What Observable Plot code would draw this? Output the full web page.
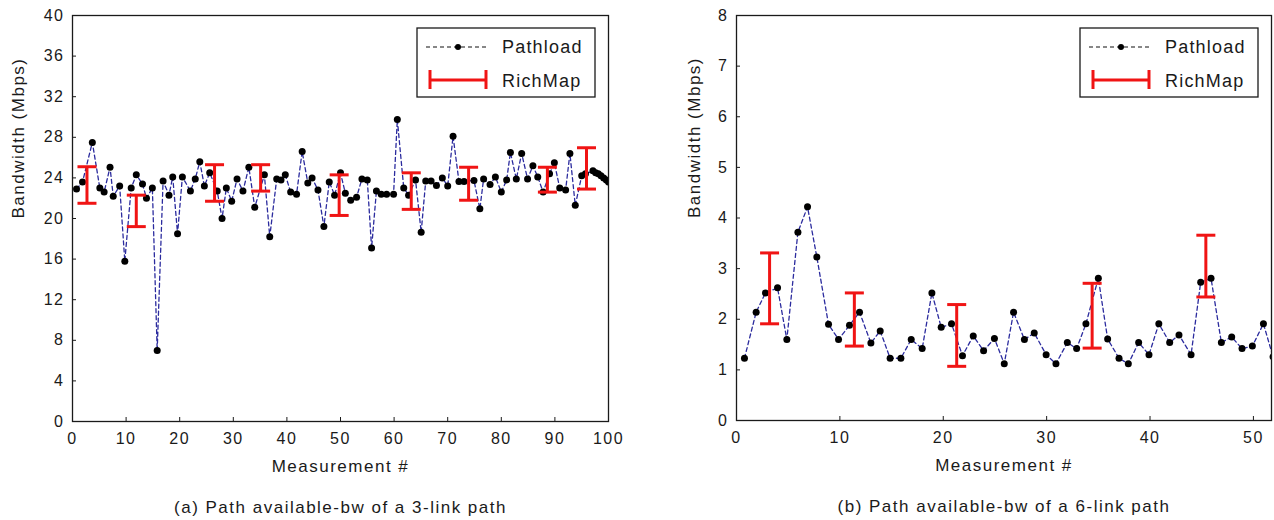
<!DOCTYPE html>
<html><head><meta charset="utf-8">
<script src="https://cdn.jsdelivr.net/npm/d3@7"></script>
<script src="https://cdn.jsdelivr.net/npm/@observablehq/plot@0.6"></script>
<style>
body{margin:0;background:#fff;}
#wrap{display:flex;width:1274px;height:520px;overflow:hidden;}
svg{display:block;}
</style></head><body><div id="wrap"></div>
<script>
// ---------- data: panel (a) 3-link path ----------
const leftX = [0.75,1.87,3.7,5.1,5.9,7.0,7.6,8.8,9.76,10.95,11.9,13.06,13.8,14.9,15.8,16.9,18.0,18.7,19.6,20.5,22.0,22.9,23.75,24.6,25.6,27.0,27.9,28.7,29.7,30.7,31.8,32.9,34.0,35.8,36.8,38.1,38.9,39.7,40.7,41.8,42.85,43.9,44.7,45.8,46.9,47.9,48.9,50.0,50.9,51.9,53.0,54.0,55.0,55.8,56.7,57.6,58.6,59.9,60.6,61.8,62.7,64.0,65.05,65.9,66.9,67.9,69.0,70.0,71.0,72.1,73.05,74.9,76.0,76.7,77.9,78.9,80.0,81.0,81.7,82.8,83.8,84.9,85.9,86.8,87.8,89.0,89.9,90.9,92.0,92.8,93.8,95.0,95.7,97.1,97.6,98.1,98.6,99.1,99.6,100];
const leftY = [22.9,23.6,27.5,23.0,22.6,25.05,22.2,23.2,15.8,23.0,24.3,23.4,22.0,23.0,7.0,23.7,22.3,24.1,18.5,24.1,22.7,23.9,25.6,23.2,24.5,22.7,20.0,23.0,21.7,23.9,22.7,25.05,21.1,24.3,18.2,23.9,23.8,24.3,22.6,22.4,26.6,23.5,24.0,22.8,19.2,23.6,22.3,24.5,22.5,21.8,22.1,23.9,23.8,17.1,22.7,22.4,22.4,22.4,29.75,23.0,22.3,23.8,18.65,23.7,23.7,23.25,24.0,23.2,28.1,23.65,23.65,23.75,20.95,23.9,23.35,24.1,22.6,23.8,26.5,23.9,26.4,23.9,25.2,24.1,22.6,24.4,25.5,23.0,22.8,26.4,21.3,24.2,24.4,24.7,24.5,24.4,24.2,24.0,23.8,23.6];
const leftBarX  = [2.7,11.9,26.5,35.1,49.75,63.2,73.9,88.6,95.9];
const leftBarLo = [21.5,19.2,21.7,22.7,20.3,20.9,21.8,22.6,22.9];
const leftBarHi = [25.1,22.3,25.3,25.3,24.3,24.5,25.05,25.05,26.97];
const leftXTicks = [0,10,20,30,40,50,60,70,80,90,100];
const leftYTicks = [0,4,8,12,16,20,24,28,32,36,40];
const leftCaption = "(a) Path available-bw of a 3-link path";

// ---------- data: panel (b) 6-link path ----------
const rightX = [0.77,1.9,2.8,3.97,4.87,5.94,6.87,7.77,8.9,9.87,10.93,11.9,13.0,13.9,14.86,15.9,16.9,17.96,18.9,19.8,20.8,21.86,22.9,23.9,24.95,25.9,26.8,27.85,28.8,29.95,30.9,32.0,32.9,33.8,35.0,35.9,37.0,37.9,38.9,39.9,40.85,41.9,42.8,43.97,44.9,45.9,46.9,47.9,48.9,49.9,50.97,51.9];
const rightY = [1.23,2.14,2.52,2.62,1.60,3.72,4.22,3.23,1.90,1.60,1.88,2.14,1.53,1.77,1.23,1.23,1.60,1.42,2.52,1.84,1.91,1.28,1.67,1.38,1.62,1.12,2.14,1.60,1.73,1.30,1.12,1.54,1.42,1.91,2.81,1.61,1.23,1.12,1.54,1.30,1.91,1.54,1.69,1.30,2.73,2.81,1.54,1.65,1.42,1.47,1.91,1.26];
const rightBarX  = [3.2,11.4,21.3,34.4,45.4];
const rightBarLo = [1.91,1.47,1.07,1.43,2.44];
const rightBarHi = [3.31,2.52,2.29,2.71,3.66];
const rightXTicks = [0,10,20,30,40,50];
const rightYTicks = [0,1,2,3,4,5,6,7,8];
const rightCaption = "(b) Path available-bw of a 6-link path";

const xLabel = "Measurement #";
const yLabel = "Bandwidth (Mbps)";
const legendLabels = ["Pathload", "RichMap"];

const FONT = "'Liberation Sans', Arial, Helvetica, sans-serif";
const RED = "#f01414";
const INK = "#1a1a1a";

function panel(cfg) {
  const pts = cfg.x.map((x, i) => ({x, y: cfg.y[i]}));
  const bars = cfg.barX.map((x, i) => ({x, lo: cfg.barLo[i], hi: cfg.barHi[i]}));
  const cap = {draw(ctx) { ctx.moveTo(-9.5, 0); ctx.lineTo(9.5, 0); }};
  const W = 637, H = 520;
  const fmt = d => String(d);
  const chart = Plot.plot({
    width: W, height: H,
    marginLeft: cfg.ml, marginRight: cfg.mr, marginTop: 15, marginBottom: cfg.mb,
    x: {domain: cfg.xDomain},
    y: {domain: cfg.yDomain},
    style: {fontFamily: FONT, fontSize: "16px", color: INK, background: "#fff", letterSpacing: "1.5px", overflow: "visible"},
    marks: [
      Plot.line(pts, {x: "x", y: "y", stroke: "#2b2b9e", strokeWidth: 1.3, strokeDasharray: "4,3", clip: true}),
      Plot.dot(pts, {x: "x", y: "y", r: 3.5, fill: "#000", stroke: "none", clip: true}),
      Plot.ruleX(bars, {x: "x", y1: "lo", y2: "hi", stroke: RED, strokeWidth: 3}),
      Plot.dot(bars, {x: "x", y: "lo", symbol: cap, stroke: RED, strokeWidth: 3, fill: "none"}),
      Plot.dot(bars, {x: "x", y: "hi", symbol: cap, stroke: RED, strokeWidth: 3, fill: "none"}),
      Plot.frame({stroke: INK, strokeWidth: 1.3}),
      Plot.axisX(cfg.xTicks, {tickSize: 0, tickPadding: 11, fontSize: 16, label: null, tickFormat: fmt, fill: INK}),
      Plot.axisX(cfg.xTicks, {tickSize: 4, dy: -4, fill: "none", label: null, stroke: INK}),
      Plot.axisY(cfg.yTicks, {tickSize: 0, tickPadding: 8, fontSize: 16, label: null, tickFormat: fmt, fill: INK}),
      Plot.axisY(cfg.yTicks, {tickSize: 4, dx: 4, fill: "none", label: null, stroke: INK}),
      Plot.text([xLabel], {frameAnchor: "bottom", dy: 50, lineAnchor: "bottom", fontSize: 17, fill: INK}),
      Plot.text([yLabel], {frameAnchor: "left", rotate: -90, dx: cfg.yLabelDx, fontSize: 17, fill: INK}),
      Plot.text([cfg.caption], {frameAnchor: "bottom", dy: 91, lineAnchor: "bottom", fontSize: 17, fill: INK})
    ]
  });
  // legend box (inside plot, top-right)
  const svg = d3.select(chart);
  const fr = W - cfg.mr;
  const bx = fr - 191, by = 28;
  const g = svg.append("g").attr("font-family", FONT).attr("font-size", 18)
    .attr("letter-spacing", "1.2px").attr("text-anchor", "start");
  g.append("rect").attr("x", bx).attr("y", by).attr("width", 178).attr("height", 69)
    .attr("fill", "#fff").attr("stroke", INK).attr("stroke-width", 1.3);
  g.append("line").attr("x1", bx + 9).attr("x2", bx + 70).attr("y1", 47).attr("y2", 47)
    .attr("stroke", "#111").attr("stroke-width", 1.2).attr("stroke-dasharray", "4,3");
  g.append("circle").attr("cx", bx + 41).attr("cy", 47).attr("r", 3).attr("fill", "#000");
  g.append("text").attr("x", bx + 85).attr("y", 53).attr("fill", INK).text(legendLabels[0]);
  g.append("line").attr("x1", bx + 13).attr("x2", bx + 69).attr("y1", 80).attr("y2", 80)
    .attr("stroke", RED).attr("stroke-width", 3);
  g.append("line").attr("x1", bx + 13).attr("x2", bx + 13).attr("y1", 70).attr("y2", 89)
    .attr("stroke", RED).attr("stroke-width", 3);
  g.append("line").attr("x1", bx + 69).attr("x2", bx + 69).attr("y1", 70).attr("y2", 89)
    .attr("stroke", RED).attr("stroke-width", 3);
  g.append("text").attr("x", bx + 85).attr("y", 87).attr("fill", INK).text(legendLabels[1]);
  return chart;
}

const wrap = document.getElementById("wrap");
wrap.appendChild(panel({
  x: leftX, y: leftY, barX: leftBarX, barLo: leftBarLo, barHi: leftBarHi,
  xTicks: leftXTicks, yTicks: leftYTicks, xDomain: [0, 100], yDomain: [0, 40],
  ml: 72, mr: 29, mb: 99, yLabelDx: -54, caption: leftCaption
}));
wrap.appendChild(panel({
  x: rightX, y: rightY, barX: rightBarX, barLo: rightBarLo, barHi: rightBarHi,
  xTicks: rightXTicks, yTicks: rightYTicks, xDomain: [0, 51.75], yDomain: [0, 8],
  ml: 99, mr: 3, mb: 100, yLabelDx: -42, caption: rightCaption
}));
</script></body></html>
